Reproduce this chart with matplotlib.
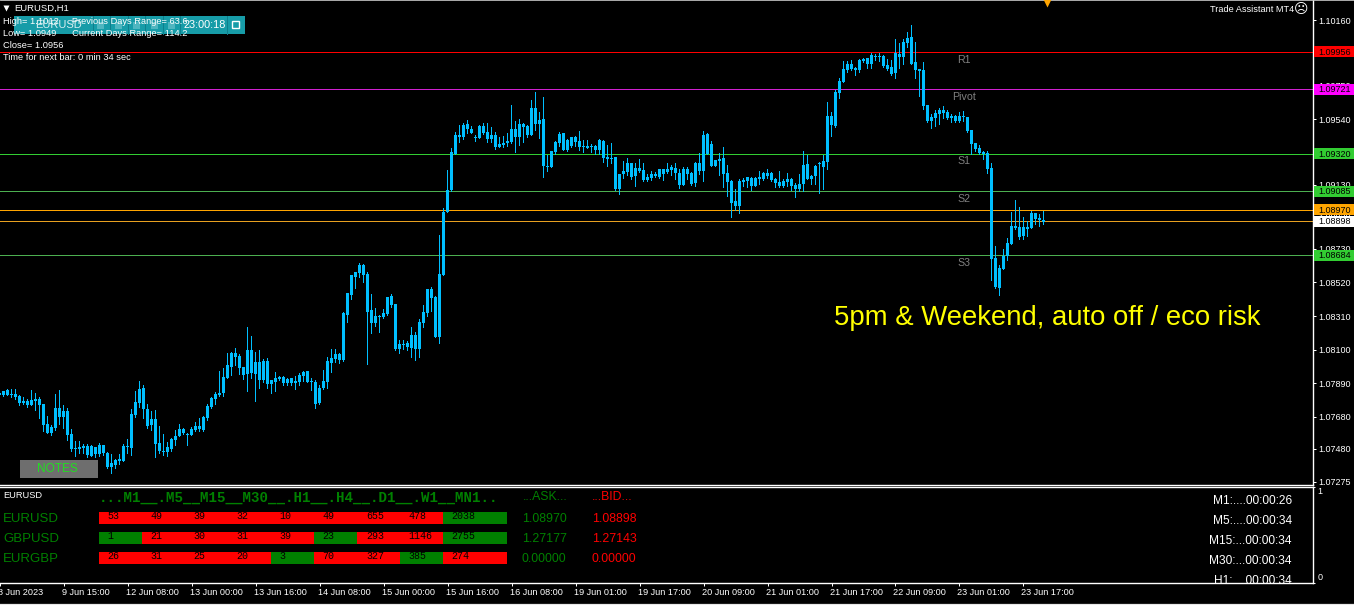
import matplotlib
matplotlib.use('Agg')
import matplotlib.pyplot as plt
from matplotlib.patches import Rectangle
from matplotlib.transforms import ScaledTranslation
import numpy as np

plt.rcParams['font.family'] = ['Liberation Sans', 'DejaVu Sans']

# EURUSD H1 candles, prices in points (1e-5)
highs = [107835,
    107843,107854,107854,107854,107816,107804,107789,107848,107829,107804,
    107760,107685,107629,107822,107848,107754,107733,107604,107529,107529,
    107510,107510,107504,107491,107516,107504,107460,107447,107416,107447,
    107510,107541,107729,107841,107904,107879,107760,107716,107722,107622,
    107572,107522,107547,107597,107635,107610,107579,107616,107647,107672,
    107685,107760,107804,107835,107966,107985,108079,108085,108110,108072,
    107991,108241,108185,108085,108097,108041,108047,107910,107960,107935,
    107935,107922,107922,107935,107954,107966,107966,107922,107910,107879,
    107972,108054,108104,108104,108079,108333,108454,108566,108585,108641,
    108635,108585,108447,108360,108316,108354,108429,108447,108385,108160,
    108160,108154,108241,108210,108291,108379,108479,108491,108435,108816,
    108985,109222,109360,109460,109504,109516,109535,109497,109441,109504,
    109516,109516,109491,109460,109429,109435,109454,109629,109529,109541,
    109516,109504,109660,109710,109585,109679,109316,109341,109404,109460,
    109454,109416,109429,109435,109466,109410,109410,109385,109379,109416,
    109410,109379,109391,109304,109197,109279,109297,109266,109266,109291,
    109266,109197,109216,109210,109229,109229,109266,109254,109266,109229,
    109241,109241,109210,109272,109329,109466,109454,109404,109285,109329,
    109366,109254,109160,109104,109166,109172,109179,109179,109179,109216,
    109210,109229,109210,109172,109216,109166,109204,109172,109141,109197,
    109341,109316,109191,109254,109272,109316,109647,109585,109722,109797,
    109904,109904,109910,109866,109916,109922,109922,109954,109947,109954,
    109941,109916,109910,110041,110016,110041,110085,110129,110022,109854,
    109897,109629,109572,109597,109610,109622,109597,109572,109566,109585,
    109591,109554,109472,109391,109379,109341,109341,109266,108747,108629,
    108729,108797,108960,109035,108991,108929,108904,108966,108954,108947,
    108966]
body_top = [107829,
    107841,107850,107822,107822,107810,107779,107779,107785,107791,107791,
    107760,107635,107616,107735,107735,107716,107716,107572,107485,107491,
    107497,107497,107497,107491,107504,107504,107454,107391,107410,107416,
    107497,107497,107697,107772,107854,107860,107729,107666,107666,107516,
    107466,107491,107541,107560,107604,107604,107572,107604,107622,107622,
    107679,107747,107797,107822,107829,107929,108004,108079,108079,108060,
    107991,108097,108097,108022,108022,108029,108029,107910,107922,107929,
    107929,107916,107922,107904,107941,107960,107966,107904,107897,107860,
    107904,108029,108047,108072,108072,108329,108454,108566,108585,108629,
    108629,108572,108347,108310,108310,108329,108429,108435,108385,108135,
    108135,108141,108191,108191,108272,108335,108479,108479,108429,108572,
    108960,109097,109335,109441,109441,109504,109510,109479,109429,109497,
    109497,109460,109441,109441,109385,109391,109404,109479,109479,109510,
    109510,109497,109610,109610,109535,109541,109247,109341,109397,109447,
    109454,109410,109429,109429,109404,109372,109372,109372,109372,109410,
    109404,109304,109297,109304,109197,109216,109266,109266,109235,109235,
    109222,109179,109197,109197,109229,109229,109229,109241,109235,109204,
    109229,109229,109204,109266,109266,109441,109447,109385,109285,109291,
    109297,109204,109154,109029,109154,109160,109179,109172,109172,109179,
    109204,109204,109204,109166,109147,109154,109166,109166,109129,109135,
    109254,109260,109185,109247,109266,109279,109560,109560,109710,109779,
    109854,109885,109885,109860,109910,109916,109922,109941,109935,109935,
    109935,109879,109866,109954,109947,110022,110047,110054,109897,109854,
    109847,109629,109554,109579,109597,109597,109585,109560,109560,109560,
    109560,109554,109472,109391,109360,109335,109329,109235,108672,108610,
    108685,108766,108872,108872,108866,108866,108866,108954,108954,108922,
    108910]
body_bottom = [107816,
    107816,107816,107816,107802,107766,107766,107754,107754,107779,107754,
    107629,107579,107579,107610,107679,107679,107566,107479,107479,107479,
    107485,107441,107435,107445,107447,107454,107366,107366,107379,107404,
    107404,107491,107485,107691,107766,107729,107622,107629,107510,107466,
    107460,107460,107479,107535,107560,107579,107566,107566,107597,107604,
    107597,107672,107741,107791,107816,107829,107922,107991,108054,107985,
    107941,107947,107954,107947,107910,107910,107885,107885,107897,107916,
    107891,107891,107891,107891,107897,107935,107897,107897,107760,107766,
    107860,107897,108016,108041,108035,108035,108316,108441,108554,108579,
    108566,108335,108266,108266,108304,108304,108322,108379,108104,108104,
    108129,108116,108110,108104,108104,108266,108329,108422,108179,108179,
    108566,108960,109097,109322,109429,109429,109479,109454,109422,109422,
    109454,109416,109416,109366,109366,109379,109391,109397,109429,109429,
    109491,109441,109441,109510,109510,109247,109241,109241,109335,109391,
    109347,109347,109372,109397,109366,109366,109360,109366,109347,109347,
    109297,109291,109291,109104,109104,109197,109210,109179,109185,109216,
    109160,109160,109172,109185,109179,109197,109210,109222,109204,109129,
    109129,109197,109135,109141,109216,109216,109322,109247,109247,109279,
    109197,109147,109016,108997,108997,109147,109154,109122,109122,109166,
    109166,109185,109160,109141,109122,109122,109147,109122,109104,109104,
    109135,109166,109166,109185,109260,109241,109272,109504,109497,109704,
    109772,109847,109854,109847,109847,109904,109885,109885,109929,109929,
    109872,109854,109822,109829,109929,109929,110016,109885,109847,109841,
    109622,109529,109529,109547,109572,109579,109547,109547,109529,109529,
    109554,109466,109385,109354,109329,109322,109229,108666,108491,108485,
    108604,108685,108760,108860,108804,108810,108854,108860,108916,108910,
    108897]
lows = [107810,
    107812,107816,107806,107789,107754,107760,107741,107754,107722,107672,
    107591,107579,107566,107597,107635,107610,107535,107466,107435,107454,
    107454,107429,107435,107429,107435,107441,107360,107329,107360,107385,
    107404,107454,107441,107679,107741,107672,107610,107597,107429,107454,
    107441,107435,107466,107504,107560,107572,107504,107566,107591,107591,
    107591,107660,107735,107760,107810,107810,107922,107941,108004,107947,
    107916,107841,107922,107779,107860,107897,107860,107829,107841,107910,
    107879,107879,107879,107854,107879,107904,107897,107848,107735,107760,
    107854,107860,107960,108022,108016,108029,108272,108416,108485,108554,
    108522,108010,108204,108247,108210,108297,108316,108366,108097,108079,
    108104,108097,108054,108035,108054,108241,108310,108341,108179,108141,
    108566,108960,109091,109322,109397,109416,109454,109454,109404,109422,
    109447,109397,109397,109354,109366,109366,109372,109391,109335,109379,
    109397,109429,109441,109472,109422,109179,109216,109241,109322,109372,
    109347,109341,109366,109372,109347,109335,109360,109335,109322,109322,
    109272,109247,109266,109097,109072,109172,109191,109166,109122,109210,
    109154,109154,109160,109179,109172,109160,109204,109191,109166,109110,
    109129,109166,109129,109122,109197,109154,109322,109247,109247,109191,
    109116,109060,108929,108972,108954,109122,109116,109097,109122,109135,
    109160,109172,109154,109116,109116,109116,109122,109097,109054,109091,
    109091,109166,109135,109135,109079,109104,109229,109435,109491,109672,
    109772,109835,109847,109816,109835,109897,109860,109860,109910,109904,
    109866,109847,109816,109797,109860,109885,109991,109885,109797,109685,
    109604,109522,109485,109497,109510,109547,109541,109522,109522,109522,
    109529,109460,109322,109341,109322,109291,109204,108535,108485,108441,
    108604,108660,108760,108854,108791,108791,108810,108860,108885,108872,
    108885]

price_ticks = ['1.10160', '1.09950', '1.09750', '1.09540', '1.09330', '1.09130', '1.08930', '1.08730',
               '1.08520', '1.08310', '1.08100', '1.07890', '1.07680', '1.07480', '1.07275']
date_labels = ['8 Jun 2023', '9 Jun 15:00', '12 Jun 08:00', '13 Jun 00:00', '13 Jun 16:00', '14 Jun 08:00',
               '15 Jun 00:00', '15 Jun 16:00', '16 Jun 08:00', '19 Jun 01:00', '19 Jun 17:00', '20 Jun 09:00',
               '21 Jun 01:00', '21 Jun 17:00', '22 Jun 09:00', '23 Jun 01:00', '23 Jun 17:00']

# pivot levels and the price tags on the right
levels = [1.09956, 1.09721, 1.09320, 1.09085, 1.08970, 1.08898, 1.08684]
level_colors = ['#FF0000', '#D020D0', '#32CD32', '#4CAF50', '#FFA500', '#E8A020', '#4CAF50']
tag_colors = ['#FF0000', '#FF00FF', '#32CD32', '#32CD32', '#FFA500', '#FFFFFF', '#32CD32']
level_names = ['R1', 'Pivot', 'S1', 'S2', '', '', 'S3']

# strength table
pairs = ['EURUSD', 'GBPUSD', 'EURGBP']
strength = [[53, 49, 39, 32, 10, 49, 655, 478, 2038],
            [1, 21, 30, 31, 39, 23, 293, 1146, 2755],
            [26, 31, 25, 20, 3, 70, 327, 385, 274]]
is_up = [[0, 0, 0, 0, 0, 0, 0, 0, 1],
         [1, 0, 0, 0, 0, 1, 0, 0, 1],
         [0, 0, 0, 0, 1, 0, 0, 1, 0]]
asks = ['1.08970', '1.27177', '0.00000']
bids = ['1.08898', '1.27143', '0.00000']
timers = ['M1:....00:00:26', 'M5:....00:00:34', 'M15:...00:00:34', 'M30:...00:00:34', 'H1:....00:00:34']

W, H = 1354, 605
BLUE = '#00BFFF'
GREEN = '#008000'

fig = plt.figure(figsize=(W / 100, H / 100), dpi=100, facecolor='black')

# main chart, 4 px per bar, 1 px = 0.0000625
frame_w, main_h = 1312.5, 484.5
ax = fig.add_axes([0, 1 - main_h / H, frame_w / W, main_h / H], facecolor='black')
bars = np.arange(len(highs))
pip = 0.0000625
ax.set_xlim(0.1875, 0.1875 + frame_w / 4)
ax.set_ylim(1.1016 - (main_h - 20) * pip, 1.1016 + 20 * pip)

h = np.array(highs) / 1e5
t = np.array(body_top) / 1e5
b = np.array(body_bottom) / 1e5
l = np.array(lows) / 1e5
ax.vlines(bars, l, h, color=BLUE, lw=0.72, antialiased=False, zorder=3)
ax.bar(bars, np.maximum(t - b, pip), bottom=b, width=0.75, color=BLUE, linewidth=0, antialiased=False, zorder=3)

# the 1 px lines need a nudge so they land on the same pixel row as in MT4
line_trans = ax.get_yaxis_transform() + ScaledTranslation(0, 0.8 / 100, fig.dpi_scale_trans)
for value, color in zip(levels, level_colors):
    ax.plot([0, 1], [value, value], color=color, lw=0.72, antialiased=False, zorder=2, transform=line_trans)

for side in ['top', 'left']:
    ax.spines[side].set_visible(False)
for side in ['right', 'bottom']:
    ax.spines[side].set_color('white')
    ax.spines[side].set_linewidth(1.0)
ax.set_xticks([])
ax.yaxis.tick_right()
ax.set_yticks([float(v) for v in price_ticks])
ax.set_yticklabels(price_ticks)
ax.tick_params(axis='y', colors='white', length=2.2, width=0.72, pad=2.0, labelsize=6.5)

trans = ax.get_yaxis_transform()
for value, color in zip(levels, tag_colors):
    ax.add_patch(Rectangle((1314 / frame_w, value - 4.7 * pip), 40 / frame_w, 11 * pip, facecolor=color,
                           edgecolor='none', transform=trans, clip_on=False, zorder=6))
    ax.text(1318 / frame_w, value + 0.3 * pip, '%.5f' % value, color='black', fontsize=6.5, va='center', ha='left',
            transform=trans, clip_on=False, zorder=7)

# indicator strip underneath
strip_top, strip_bottom = 486.5, 582.5
ax2 = fig.add_axes([0, 1 - strip_bottom / H, frame_w / W, (strip_bottom - strip_top) / H], facecolor='black')
ax2.set_xlim(ax.get_xlim())
ax2.set_ylim(0, 1)
ax2.spines['left'].set_visible(False)
for side in ['top', 'right', 'bottom']:
    ax2.spines[side].set_color('white')
    ax2.spines[side].set_linewidth(1.0)
ax2.set_xticks(np.arange(len(date_labels)) * 16)
ax2.set_xticklabels(date_labels, ha='left')
ax2.tick_params(axis='x', colors='white', length=2.2, width=0.72, pad=2.0, labelsize=6.6)
shift_left = ScaledTranslation(-2 / 100, 0, fig.dpi_scale_trans)
for label in ax2.get_xticklabels():
    label.set_transform(label.get_transform() + shift_left)
ax2.yaxis.tick_right()
ax2.set_yticks([0, 1])
ax2.set_yticklabels(['0', '1'])
ax2.tick_params(axis='y', colors='white', length=1.5, width=0.72, pad=2.0, labelsize=6.5)
ax2.get_yticklabels()[0].set_va('bottom')
ax2.get_yticklabels()[1].set_va('top')

# overlay in pixel units for the terminal furniture
ui = fig.add_axes([0, 0, 1, 1], facecolor='none')
ui.set_xlim(0, W)
ui.set_ylim(H, 0)
ui.axis('off')

ui.axhline(0.4, color='#C8C8C8', lw=0.6)
ui.axhline(604, color='#E8E8E8', lw=0.9)

# toolbar
ui.add_patch(Rectangle((14, 16), 231, 18, facecolor='#179CA8', edgecolor='none'))
for edge in [93, 110, 128, 145, 163, 180, 227]:
    ui.plot([edge, edge], [16, 34], color='#0E7F8C', lw=0.72)
for cx in [100, 118, 136, 154, 171]:
    ui.add_patch(Rectangle((cx - 3, 22), 7, 7, facecolor='#4FB6C0', edgecolor='none'))
ui.add_patch(Rectangle((232, 21), 7, 7, facecolor='none', edgecolor='white', lw=1))
ui.text(35, 25, 'EURUSD', color='#D8EEF0', fontsize=8, va='center')
ui.text(184, 25, '23:00:18', color='white', fontsize=7.8, va='center')

ui.plot([5.5], [8.3], marker='v', ms=5, color='white', mec='none')
ui.text(14, 8.5, 'EURUSD,H1', color='white', fontsize=6.8, va='center')
ui.text(3, 21.5, 'High= 1.1012     Previous Days Range= 63.6', color='white', fontsize=6.7, va='center')
ui.text(3, 33.5, 'Low= 1.0949      Current Days Range= 114.2', color='white', fontsize=6.7, va='center')
ui.text(3, 46, 'Close= 1.0956', color='white', fontsize=6.7, va='center')
ui.text(3, 58, 'Time for next bar: 0 min 34 sec', color='white', fontsize=6.7, va='center')

ui.text(1294, 9.5, 'Trade Assistant MT4', color='white', fontsize=6.6, va='center', ha='right')
ui.text(1301.5, 9.5, '\u2639', color='white', fontsize=10, va='center', ha='center', family='DejaVu Sans')
ui.plot([1047], [1.5], marker='v', ms=7, color='#FFA500', mec='none')

ui.add_patch(Rectangle((20, 460), 78, 18, facecolor='#6E6E6E', edgecolor='none'))
ui.text(57, 469.5, 'NOTES', color='#22DD22', fontsize=8.6, va='center', ha='center')

ui.text(834, 318, '5pm & Weekend, auto off / eco risk', color='#FFFF00', fontsize=19.85, va='center', ha='left')

# level names sit just under their line
for value, name in zip(levels, level_names):
    if name:
        ui.text(964, 20 + (1.1016 - value) / pip + 7, name, color='#808080', fontsize=7.7, va='center', ha='center')

# strength table
ui.text(3, 495.5, 'EURUSD', color='white', fontsize=6.7, va='center')
ui.text(99, 498, '...M1__.M5__M15__M30__.H1__.H4__.D1__.W1__MN1..', color=GREEN, fontsize=10.2,
        family='Liberation Mono', weight='bold', va='center')
ui.text(523, 497, '...ASK...', color=GREEN, fontsize=8.8, va='center')
ui.text(592, 497, '...BID...', color='#FF0000', fontsize=8.8, va='center')

cell_left = [99, 142, 185, 228, 271, 314, 357, 400, 443]
cell_w = [43, 43, 43, 43, 43, 43, 43, 43, 64]
text_x = [107, 150, 193, 236, 279, 322, 366, 408, 451]
for r in range(len(pairs)):
    yc = 518 + 20 * r
    ui.text(3, yc + 1, pairs[r], color=GREEN, fontsize=9.5, va='center')
    ui.barh(yc, cell_w, left=cell_left, height=12,
            color=['#008000' if up else '#FF0000' for up in is_up[r]], linewidth=0, antialiased=False)
    for c in range(len(cell_left)):
        ui.text(text_x[c], yc - 2, str(strength[r][c]), color='black', fontsize=7.2,
                family='Liberation Mono', va='center')
    ui.text(522, yc + 1, asks[r], color=GREEN, fontsize=8.9, va='center')
    ui.text(592, yc + 1, bids[r], color='#FF0000', fontsize=8.9, va='center')

for i, label in enumerate(timers):
    txt = ui.text(1292, 500.5 + 20 * i, label, color='white', fontsize=8.6, va='center', ha='right')
    txt.set_clip_path(Rectangle((0, 487), W, 95, transform=ui.transData))

fig.savefig('out.png', dpi=100, facecolor='black')
